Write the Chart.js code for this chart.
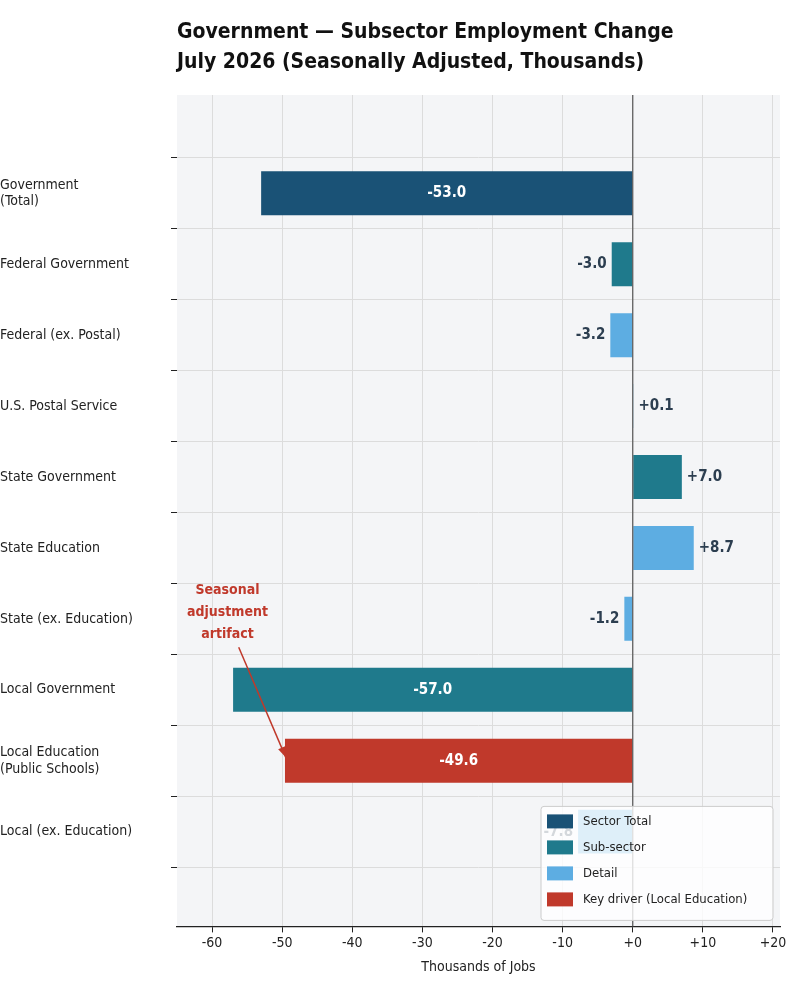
<!DOCTYPE html>
<html><head><meta charset="utf-8">
<script src="https://cdn.jsdelivr.net/npm/chart.js@4"></script>
<style>body{margin:0;background:#fff}#wrap{width:801px;height:990px}</style>
</head><body><div id="wrap"><canvas id="c"></canvas></div>
<script>
const categories = [['Government','(Total)'],'Federal Government','Federal (ex. Postal)','U.S. Postal Service','State Government','State Education','State (ex. Education)','Local Government',['Local Education','(Public Schools)'],'Local (ex. Education)']
const values = [-53.0,-3.0,-3.2,0.1,7.0,8.7,-1.2,-57.0,-49.6,-7.8]
const kinds = ['total','sub','detail','detail','sub','detail','detail','sub','key','detail']
const kindColors = {total:'#1a5276',sub:'#1f7a8c',detail:'#5dade2',key:'#c0392b'}
const legendLabels = [['Sector Total','total'],['Sub-sector','sub'],['Detail','detail'],['Key driver (Local Education)','key']]
const xTicks = [-60,-50,-40,-30,-20,-10,0,10,20]

const fmt = v => (v >= 0 ? '+' : '') + v.toFixed(1)
const font = '"DejaVu Sans Condensed", "DejaVu Sans", sans-serif'

const bgPlugin = {
  id: 'bg',
  beforeDraw(chart) {
    const {ctx, chartArea: a} = chart
    ctx.save(); ctx.fillStyle = '#f4f5f7'; ctx.fillRect(a.left, a.top, a.right - a.left, a.bottom - a.top)
    ctx.fillStyle = '#111'; ctx.font = 'bold 21px ' + font; ctx.textAlign = 'left'; ctx.textBaseline = 'alphabetic'
    ctx.fillText('Government — Subsector Employment Change', a.left, 38)
    ctx.fillText('July 2026 (Seasonally Adjusted, Thousands)', a.left, 68)
    ctx.restore()
  },
  afterDatasetsDraw(chart) {
    const {ctx, scales: {x, y}, chartArea: a} = chart
    const meta = chart.getDatasetMeta(0)
    ctx.save()
    ctx.strokeStyle = '#555'; ctx.lineWidth = 1.2
    ctx.beginPath(); ctx.moveTo(x.getPixelForValue(0), a.top); ctx.lineTo(x.getPixelForValue(0), a.bottom); ctx.stroke()
    ctx.font = 'bold 15px ' + font
    ctx.textBaseline = 'middle'
    values.forEach((v, i) => {
      const bar = meta.data[i]
      if (Math.abs(v) > 20) {
        ctx.fillStyle = '#fff'; ctx.textAlign = 'center'
        ctx.fillText(fmt(v), (bar.x + bar.base) / 2, bar.y)
      } else {
        ctx.fillStyle = '#2c3e50'
        ctx.textAlign = v >= 0 ? 'left' : 'right'
        ctx.fillText(fmt(v), bar.x + (v >= 0 ? 5 : -5), bar.y)
      }
    })
    // annotation
    const tx = x.getPixelForValue(-57.8), ty = y.getPixelForValue(5.6)
    ctx.fillStyle = '#c0392b'; ctx.textAlign = 'center'
    ctx.font = 'bold 14px ' + font
    ;['Seasonal', 'adjustment', 'artifact'].forEach((t, k) => ctx.fillText(t, tx, ty + k * 22))
    const ax0 = x.getPixelForValue(-56.2), ay0 = y.getPixelForValue(6.4)
    const ax1 = x.getPixelForValue(-49.5), ay1 = y.getPixelForValue(7.95)
    ctx.strokeStyle = '#c0392b'; ctx.lineWidth = 1.5
    ctx.beginPath(); ctx.moveTo(ax0, ay0); ctx.lineTo(ax1, ay1); ctx.stroke()
    const ang = Math.atan2(ay1 - ay0, ax1 - ax0)
    ctx.beginPath(); ctx.moveTo(ax1, ay1)
    ctx.lineTo(ax1 - 11 * Math.cos(ang - 0.35), ay1 - 11 * Math.sin(ang - 0.35))
    ctx.lineTo(ax1 - 11 * Math.cos(ang + 0.35), ay1 - 11 * Math.sin(ang + 0.35))
    ctx.closePath(); ctx.fillStyle = '#c0392b'; ctx.fill()
    // legend
    const lw = 232, lh = 114, lx = a.right - lw - 7, ly = a.bottom - lh - 6
    ctx.fillStyle = 'rgba(255,255,255,0.8)'; ctx.strokeStyle = '#ccc'; ctx.lineWidth = 1
    ctx.beginPath(); ctx.roundRect(lx, ly, lw, lh, 3); ctx.fill(); ctx.stroke()
    ctx.font = '13px ' + font; ctx.textAlign = 'left'
    legendLabels.forEach(([t, k], i) => {
      const cy = ly + 15 + i * 26
      ctx.fillStyle = kindColors[k]; ctx.fillRect(lx + 6, cy - 7, 26, 14)
      ctx.fillStyle = '#222'; ctx.fillText(t, lx + 42, cy)
    })
    ctx.restore()
  }
}

new Chart(document.getElementById('c'), {
  type: 'bar',
  data: {
    labels: categories,
    datasets: [{ data: values.map((v, i) => ({ x: v, y: i })), backgroundColor: kinds.map(k => kindColors[k]), barPercentage: 0.62, categoryPercentage: 1 }]
  },
  options: {
    indexAxis: 'y', responsive: true, maintainAspectRatio: false, animation: false,
    layout: { padding: { top: 95, right: 21, left: 0, bottom: 10 } },
    plugins: { legend: { display: false }, tooltip: { enabled: false } },
    scales: {
      x: {
        type: 'linear', min: -65, max: 21,
        afterBuildTicks: s => { s.ticks = xTicks.map(v => ({ value: v })) },
        ticks: { callback: v => (v >= 0 ? '+' : '') + v, color: '#222', font: { family: font, size: 14 } },
        grid: { color: '#dcdcdc', tickColor: '#222', tickLength: 6 },
        border: { color: '#222', width: 1.2 },
        title: { display: true, text: 'Thousands of Jobs', color: '#222', font: { family: font, size: 14 } }
      },
      y: {
        type: 'linear', reverse: true, min: -0.8, max: 9.75,
        afterBuildTicks: s => { s.ticks = categories.map((c, i) => ({ value: i })) },
        afterFit: s => { s.width = 177 },
        ticks: { callback: v => categories[v], color: '#222', font: { family: font, size: 14 }, align: 'center', crossAlign: 'far' },
        grid: { color: '#dcdcdc', tickColor: '#222', tickLength: 6 },
        border: { display: false }
      }
    }
  },
  plugins: [bgPlugin]
})
</script></body></html>
